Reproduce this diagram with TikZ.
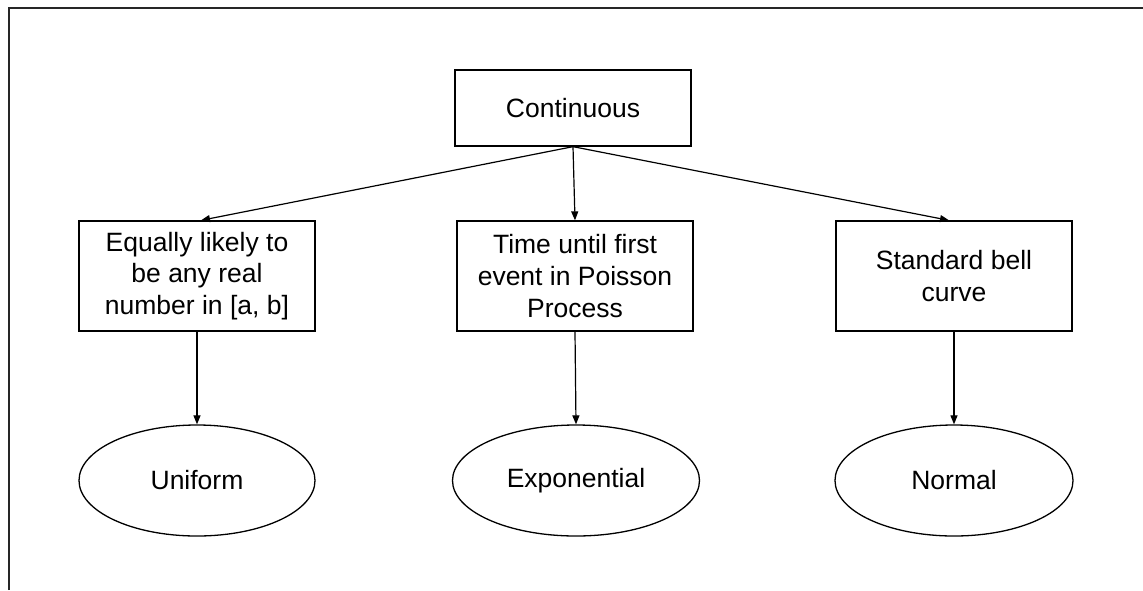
\documentclass[tikz,border=0pt]{standalone}
\usepackage{fontspec}
\setmainfont{Liberation Sans}
\usetikzlibrary{shapes.geometric,arrows.meta}
\begin{document}
\begin{tikzpicture}[x=1pt,y=-1pt,
  every node/.style={font=\fontsize{26.5}{31.8}\selectfont, text=black},
  box/.style={draw=black, line width=1.3pt, rectangle, minimum width=236pt, align=center, inner sep=0pt},
  oval/.style={draw=black, line width=1.3pt, ellipse, inner sep=0pt},
  conn/.style={draw=black, line width=1.2pt, -{Triangle[length=9pt,width=7pt]}}]
\useasboundingbox (0,0) rectangle (1143,590);
\draw[line width=1.4pt, color=black!85] (9,590) -- (9,8) -- (1143,8);
\node[box, minimum height=76pt] (c) at (573,108) {Continuous};
\node[box, minimum height=110pt] (b1) at (197,276) {Equally likely to\\be any real\\number in [a, b]};
\node[box, minimum height=110pt] (b2) at (575,276) {Time until first\\event in Poisson\\Process};
\node[box, minimum height=110pt] (b3) at (954,276) {Standard bell\\curve};
\node[oval, minimum width=236pt, minimum height=111pt] (e1) at (197,480.5) {Uniform};
\node[oval, minimum width=247pt, minimum height=111pt] (e2) at (576,480.5) {Exponential};
\node[oval, minimum width=238pt, minimum height=111pt] (e3) at (954,480.5) {Normal};
\draw[conn] (c.south) -- ([xshift=4pt]b1.north);
\draw[conn] (c.south) -- (b2.north);
\draw[conn] (c.south) -- ([xshift=-5pt]b3.north);
\draw[conn] (b1.south) -- (e1.north);
\draw[conn] (b2.south) -- (e2.north);
\draw[conn] (b3.south) -- (e3.north);
\end{tikzpicture}
\end{document}
